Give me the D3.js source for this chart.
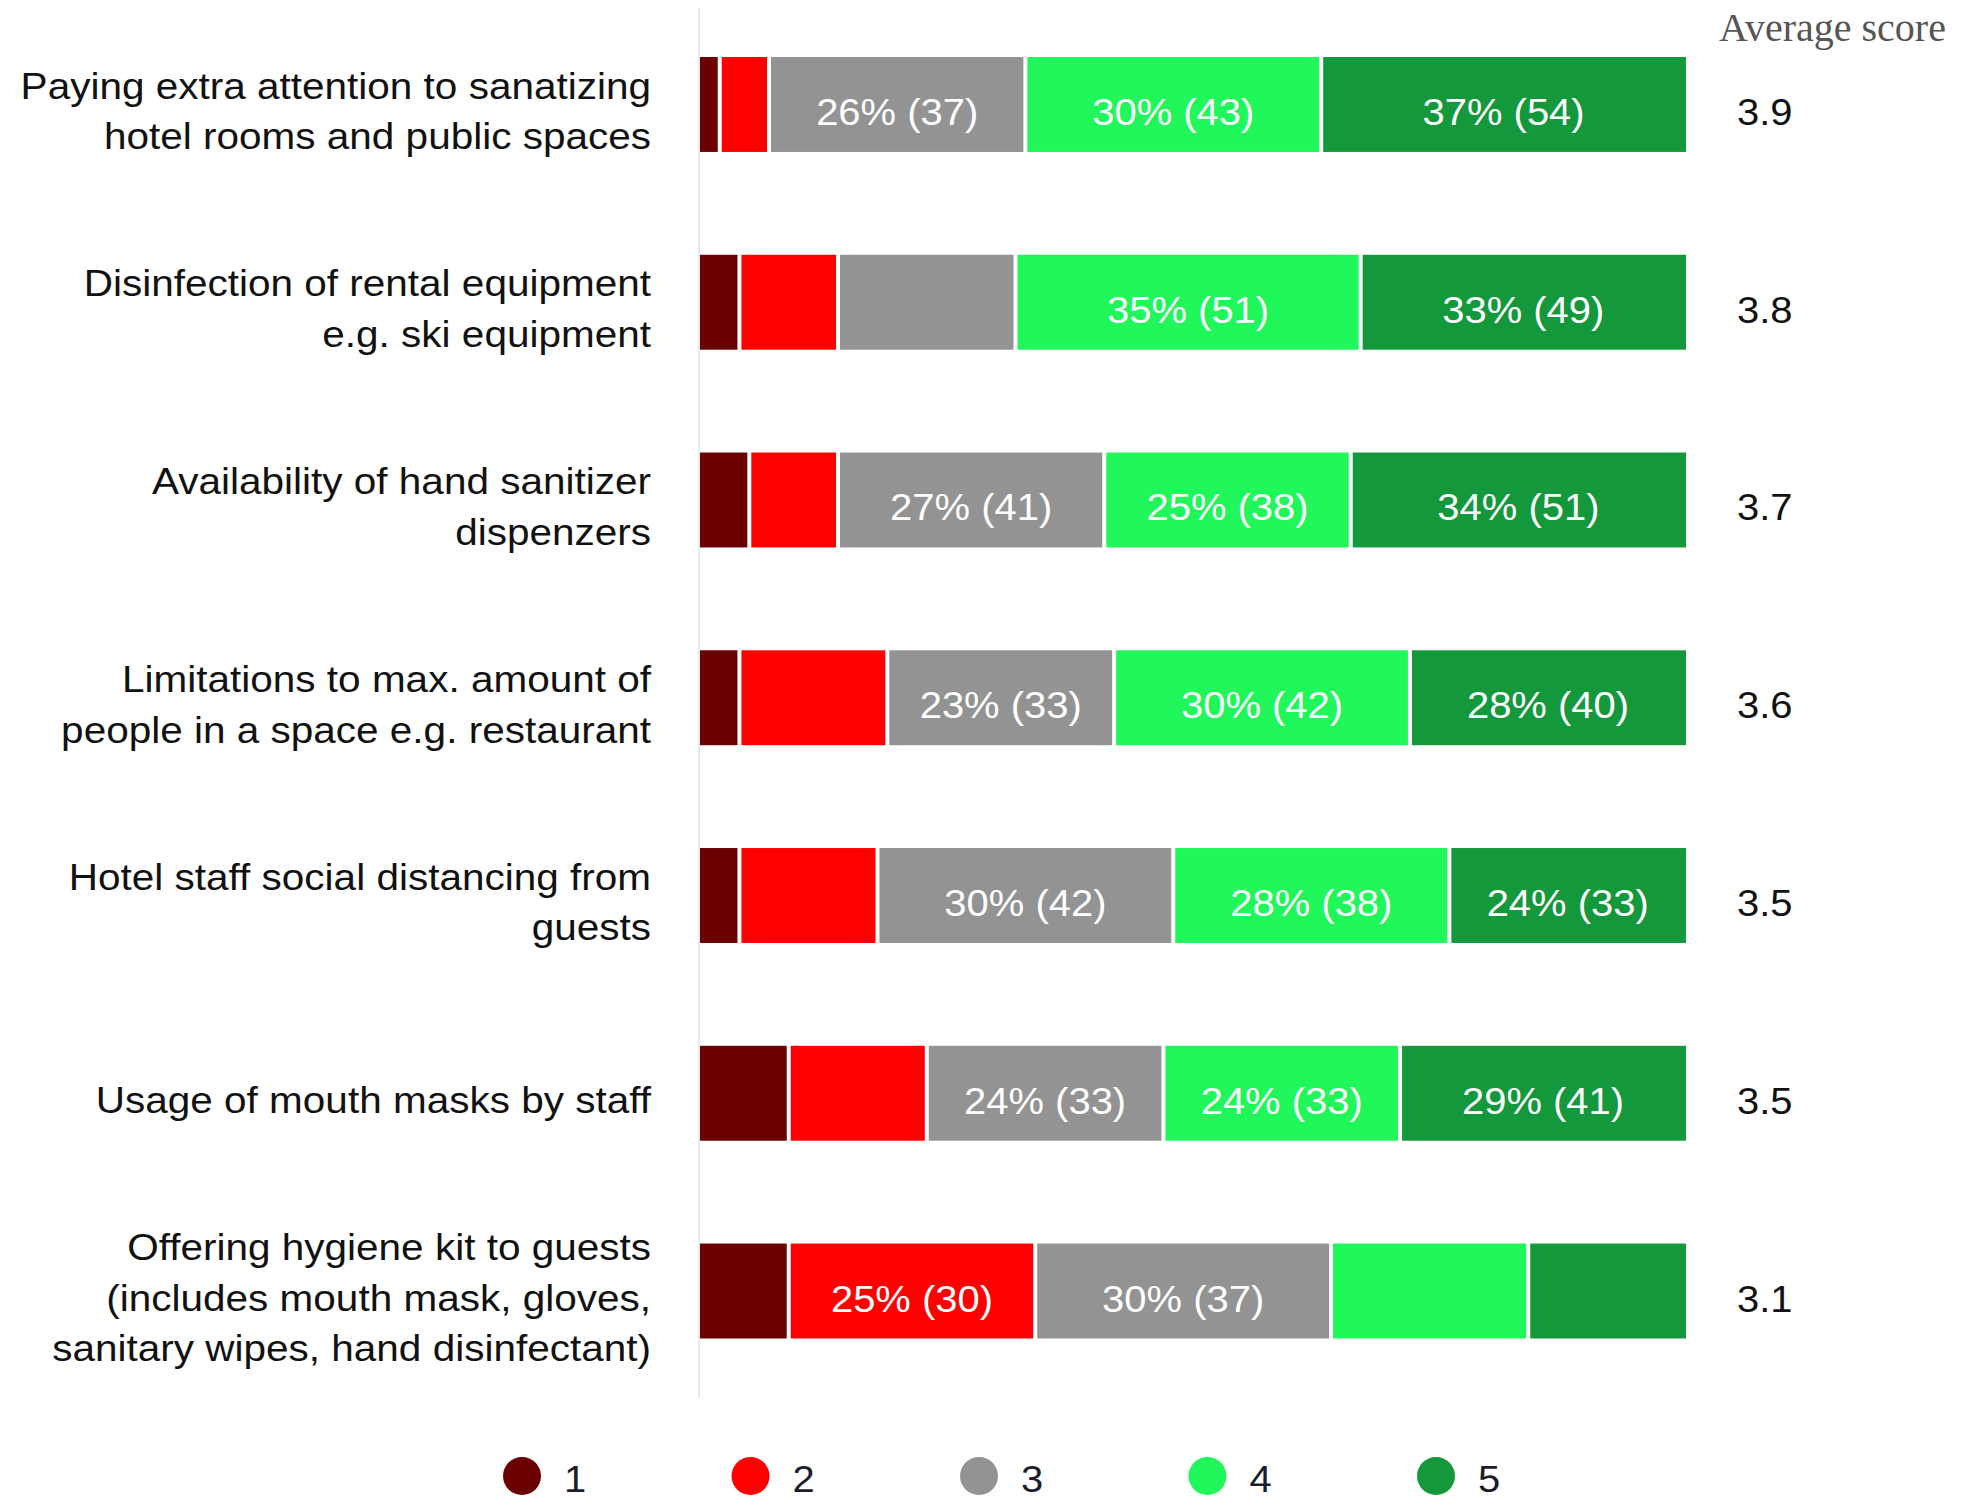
<!DOCTYPE html>
<html>
<head>
<meta charset="utf-8">
<script src="https://cdn.jsdelivr.net/npm/d3@7"></script>
<style>
  html, body { margin: 0; padding: 0; background: #ffffff; }
  svg { display: block; }
</style>
</head>
<body>
<svg id="chart" width="1985" height="1498"></svg>
<script>
// Survey items (label lines)
const categories = [
  ["Paying extra attention to sanatizing", "hotel rooms and public spaces"],
  ["Disinfection of rental equipment", "e.g. ski equipment"],
  ["Availability of hand sanitizer", "dispenzers"],
  ["Limitations to max. amount of", "people in a space e.g. restaurant"],
  ["Hotel staff social distancing from", "guests"],
  ["Usage of mouth masks by staff"],
  ["Offering hygiene kit to guests", "(includes mouth mask, gloves,", "sanitary wipes, hand disinfectant)"]
];

// Share of respondents (%) per score, one array per score
const pct1 = [2, 4, 5, 4, 4, 9, 9];
const pct2 = [5, 10, 9, 15, 14, 14, 25];
const pct3 = [26, 18, 27, 23, 30, 24, 30];
const pct4 = [30, 35, 25, 30, 28, 24, 20];
const pct5 = [37, 33, 34, 28, 24, 29, 16];

// Respondent counts printed inside segments (null = no label)
const cnt1 = [null, null, null, null, null, null, null];
const cnt2 = [null, null, null, null, null, null, 30];
const cnt3 = [37, null, 41, 33, 42, 33, 37];
const cnt4 = [43, 51, 38, 42, 38, 33, null];
const cnt5 = [54, 49, 51, 40, 33, 41, null];

const averages = [3.9, 3.8, 3.7, 3.6, 3.5, 3.5, 3.1];
const scoreLabels = ["1", "2", "3", "4", "5"];
const colors = ["#6a0000", "#ff0000", "#939393", "#1ff75a", "#13983b"];

const pctSeries = [pct1, pct2, pct3, pct4, pct5];
const cntSeries = [cnt1, cnt2, cnt3, cnt4, cnt5];

const svg = d3.select("#chart");
const sansFont = "'Liberation Sans', Arial, sans-serif";
const stretch = 1.08;
const labelStretch = 1.095;

const x = d3.scaleLinear().domain([0, 100]).range([700, 1686]);
const y = d3.scaleBand()
  .domain(d3.range(categories.length))
  .range([5.6, 1389.9])
  .paddingInner(0.52)
  .paddingOuter(0.26);

// vertical baseline axis
svg.append("line")
  .attr("x1", x(0) - 1).attr("x2", x(0) - 1)
  .attr("y1", y.range()[0] + 2).attr("y2", y.range()[1] + 8)
  .attr("stroke", "#e4ecf3").attr("stroke-width", 2);

// build stacked segments
const segments = [];
categories.forEach((c, i) => {
  let acc = 0;
  pctSeries.forEach((s, k) => {
    segments.push({ row: i, k, x0: acc, x1: acc + s[i], v: s[i], n: cntSeries[k][i] });
    acc += s[i];
  });
});

const gap = 2;
const rows = svg.append("g");
rows.selectAll("rect.seg")
  .data(segments)
  .join("rect")
  .attr("class", "seg")
  .attr("x", d => x(d.x0) + (d.k > 0 ? gap : 0))
  .attr("width", d => x(d.x1) - x(d.x0) - (d.k > 0 ? gap : 0) - (d.k < 4 ? gap : 0))
  .attr("y", d => y(d.row))
  .attr("height", y.bandwidth())
  .attr("fill", d => colors[d.k]);

// segment value labels
rows.selectAll("g.seglab")
  .data(segments.filter(d => d.n !== null))
  .join("g")
  .attr("class", "seglab")
  .attr("transform", d => `translate(${(x(d.x0) + x(d.x1)) / 2},${y(d.row) + y.bandwidth() / 2 + 20.5}) scale(${stretch},1)`)
  .append("text")
  .attr("text-anchor", "middle")
  .attr("font-family", sansFont)
  .attr("font-size", 37)
  .attr("fill", "#ffffff")
  .text(d => `${d.v}% (${d.n})`);

// category labels
const lineH = 50.6;
categories.forEach((lines, i) => {
  const c = y(i) + y.bandwidth() / 2;
  lines.forEach((t, j) => {
    svg.append("g")
      .attr("transform", `translate(651,${c + (j - (lines.length - 1) / 2) * lineH + 19.5}) scale(${labelStretch},1)`)
      .append("text")
      .attr("text-anchor", "end")
      .attr("font-family", sansFont)
      .attr("font-size", 37)
      .attr("fill", "#111111")
      .text(t);
  });
});

// average score column
svg.append("text")
  .attr("x", 1719).attr("y", 41)
  .attr("font-family", "'Liberation Serif', 'Times New Roman', serif")
  .attr("font-size", 40)
  .attr("fill", "#555555")
  .text("Average score");

svg.selectAll("g.avg")
  .data(averages)
  .join("g")
  .attr("class", "avg")
  .attr("transform", (d, i) => `translate(1737,${y(i) + y.bandwidth() / 2 + 20.5}) scale(${stretch},1)`)
  .append("text")
  .attr("font-family", sansFont)
  .attr("font-size", 37)
  .attr("fill", "#111111")
  .text(d => d3.format(".1f")(d));

// legend
const lx = d3.scalePoint().domain(scoreLabels).range([522, 1436]);
const legend = svg.append("g");
legend.selectAll("circle")
  .data(scoreLabels)
  .join("circle")
  .attr("cx", d => lx(d)).attr("cy", 1476).attr("r", 19)
  .attr("fill", (d, i) => colors[i]);
legend.selectAll("g.ll")
  .data(scoreLabels)
  .join("g")
  .attr("class", "ll")
  .attr("transform", d => `translate(${lx(d) + 42},1492) scale(${stretch},1)`)
  .append("text")
  .attr("font-family", sansFont)
  .attr("font-size", 37)
  .attr("fill", "#1c1c2a")
  .text(d => d);
</script>
</body>
</html>
